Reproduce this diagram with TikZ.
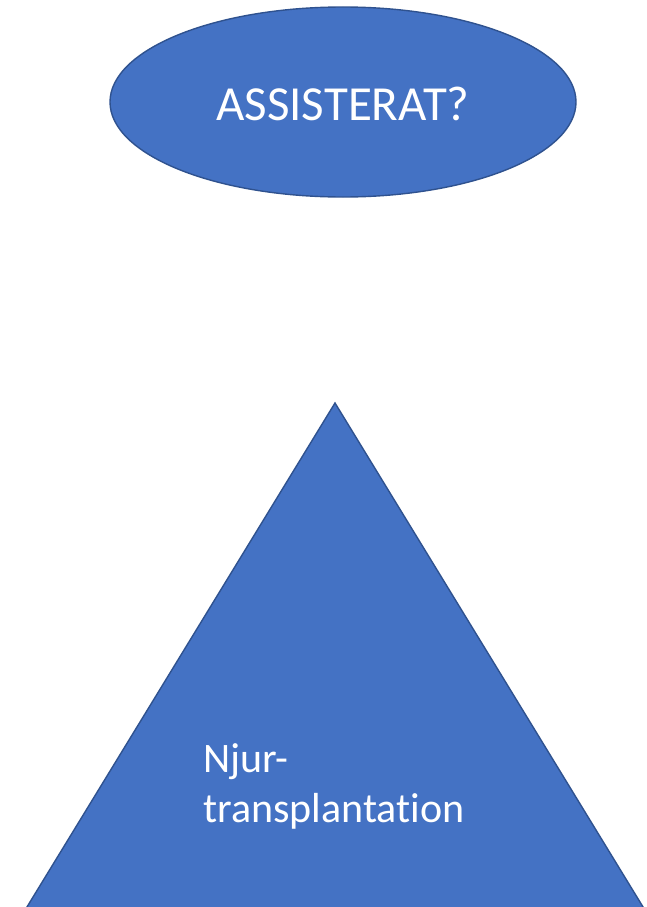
\documentclass[tikz,border=0pt]{standalone}
\usepackage{fontspec}
\setmainfont{Carlito}[Ligatures=NoCommon]
\usetikzlibrary{shapes.geometric}
\definecolor{shapefill}{HTML}{4472C4}
\definecolor{shapeline}{HTML}{2F528F}
\begin{document}
\begin{tikzpicture}[x=1pt,y=-1pt,
  shapestyle/.style={fill=shapefill,draw=shapeline,line width=1.4pt},
  labeltext/.style={text=white,inner sep=0pt}]
\useasboundingbox (0,0) rectangle (646,907);
% question ellipse
\node[shapestyle,ellipse,minimum width=466,minimum height=190,inner sep=0pt] (q) at (343,102) {};
\node[labeltext,anchor=base,font=\fontsize{49}{58}\selectfont] (qtext) at (343,120) {ASSISTERAT?};
% triangle, cut off at the bottom edge
\begin{scope}
\clip (0,0) rectangle (646,907);
\draw[shapestyle] (335,403) -- (651,920) -- (19,920) -- cycle;
\end{scope}
\coordinate (apex) at (335,403);
\node[labeltext,anchor=base west,align=left,font=\fontsize{42}{50}\selectfont] (ntext) at (203,822) {Njur-\\transplantation};
\end{tikzpicture}
\end{document}
